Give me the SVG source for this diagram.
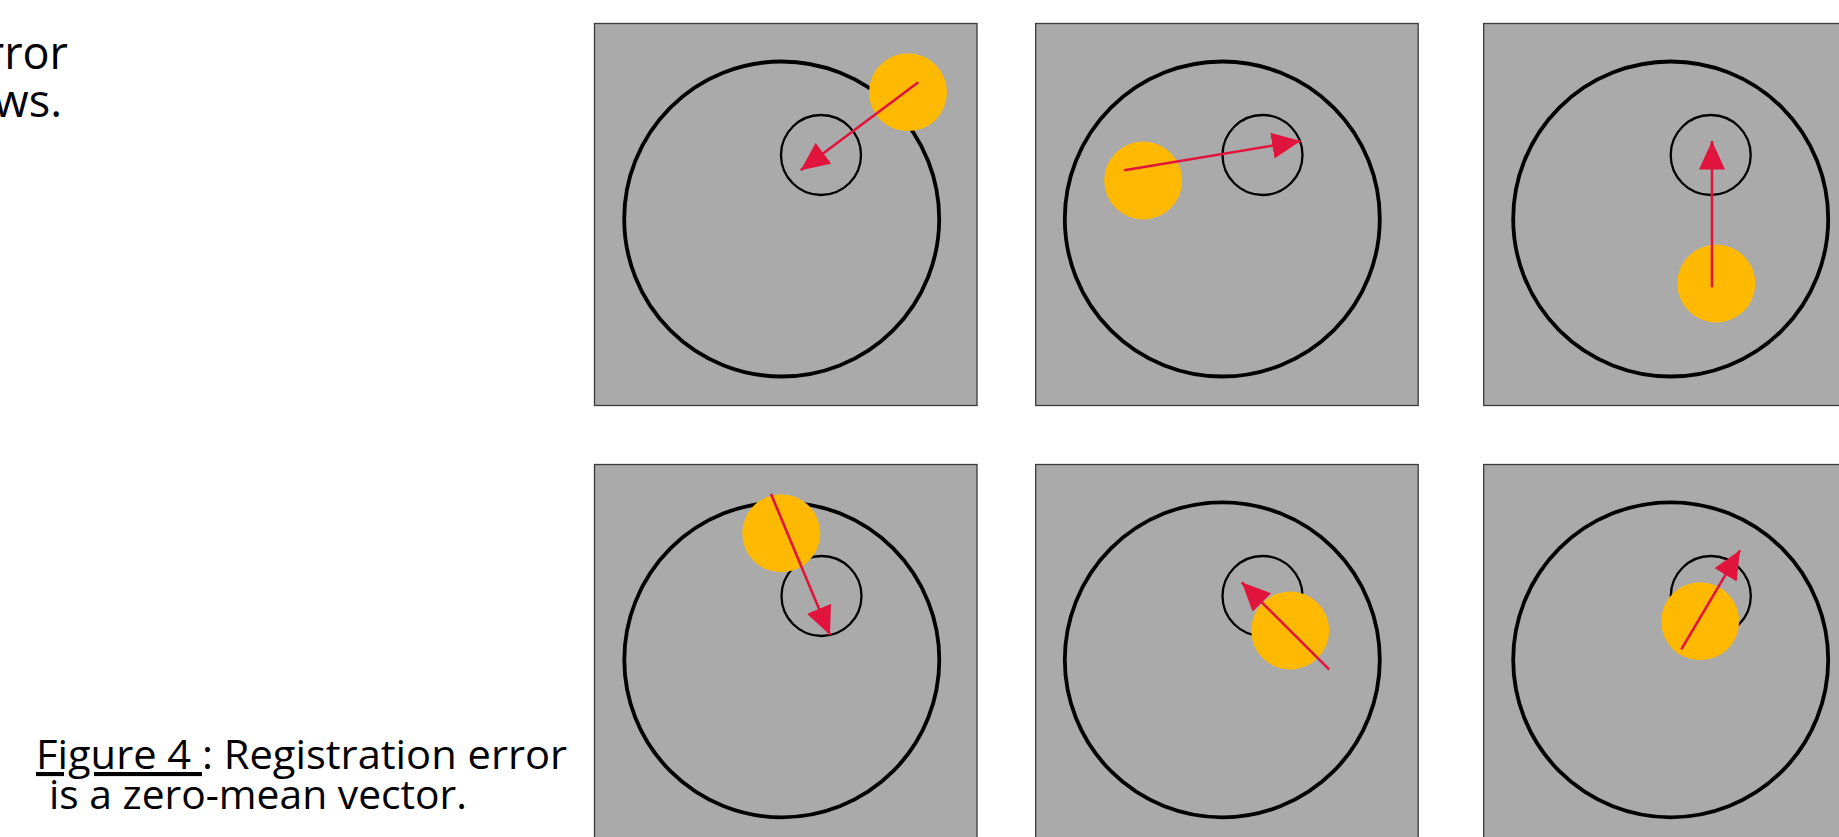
<svg xmlns="http://www.w3.org/2000/svg" width="1839" height="837" viewBox="0 0 1839 837">
<style>
  .txt { font-family: "Open Sans", "Liberation Sans", sans-serif; fill: #000; }
  .panel { fill: #AAAAAA; stroke: #3a3a3a; stroke-width: 1.3; }
  .big { fill: none; stroke: #000; stroke-width: 3.8; }
  .small { fill: none; stroke: #000; stroke-width: 2.3; }
  .dot { fill: #FFB900; stroke: none; }
  .vec { stroke: #E0143C; stroke-width: 2.6; fill: none; marker-end: url(#head); }
</style>
<defs>
  <marker id="head" markerUnits="userSpaceOnUse" markerWidth="30" markerHeight="28" refX="28.5" refY="13" orient="auto">
    <path d="M0,0 L28.5,13 L0,26 Z" fill="#E0143C"/>
  </marker>
</defs>
<rect width="1839" height="837" fill="#FFFFFF"/>

<g id="text-top">
  <text class="txt" x="68" y="69" font-size="45" text-anchor="end">rror</text>
  <text class="txt" x="62" y="117" font-size="45" text-anchor="end">ws.</text>
</g>

<g id="caption">
  <text class="txt" x="36" y="769" font-size="41" textLength="531" lengthAdjust="spacingAndGlyphs"><tspan text-decoration="underline">Figure 4 </tspan>: Registration error</text>
  <text class="txt" x="49" y="809" font-size="41" textLength="418" lengthAdjust="spacingAndGlyphs">is a zero-mean vector.</text>
</g>

<g id="panel-1">
  <rect class="panel" x="594.5" y="23.5" width="382.5" height="382"/>
  <circle class="big" cx="781.7" cy="219" r="157.5"/>
  <circle class="small" cx="821" cy="155" r="40"/>
  <circle class="dot" cx="908" cy="92.3" r="39"/>
</g>
<g id="panel-2">
  <rect class="panel" x="1035.7" y="23.5" width="382.5" height="382"/>
  <circle class="big" cx="1222.3" cy="219" r="157.5"/>
  <circle class="small" cx="1262.5" cy="155" r="40"/>
  <circle class="dot" cx="1143.2" cy="180.5" r="39"/>
</g>
<g id="panel-3">
  <rect class="panel" x="1483.7" y="23.5" width="382.5" height="382"/>
  <circle class="big" cx="1670.7" cy="219" r="157.5"/>
  <circle class="small" cx="1710.7" cy="155" r="40"/>
  <circle class="dot" cx="1716.3" cy="283.5" r="39"/>
</g>
<g id="panel-4">
  <rect class="panel" x="594.5" y="464.5" width="382.5" height="382"/>
  <circle class="big" cx="781.8" cy="659.8" r="157.5"/>
  <circle class="small" cx="821.5" cy="596" r="40"/>
  <circle class="dot" cx="781.3" cy="533.3" r="39"/>
</g>
<g id="panel-5">
  <rect class="panel" x="1035.7" y="464.5" width="382.5" height="382"/>
  <circle class="big" cx="1222.3" cy="659.8" r="157.5"/>
  <circle class="small" cx="1262.5" cy="596" r="40"/>
  <circle class="dot" cx="1290.2" cy="630.5" r="39"/>
</g>
<g id="panel-6">
  <rect class="panel" x="1483.7" y="464.5" width="382.5" height="382"/>
  <circle class="big" cx="1670.7" cy="659.8" r="157.5"/>
  <circle class="small" cx="1710.8" cy="596" r="40"/>
  <circle class="dot" cx="1700.2" cy="621.3" r="39"/>
</g>

<g id="connectors">
  <line class="vec" x1="918.3" y1="82.3" x2="800.7" y2="170.3"/>
  <line class="vec" x1="1124.3" y1="170.3" x2="1300.5" y2="141"/>
  <line class="vec" x1="1712" y1="287.3" x2="1712" y2="141"/>
  <line class="vec" x1="771" y1="494" x2="830" y2="635"/>
  <line class="vec" x1="1329.3" y1="669.7" x2="1241.7" y2="582.3"/>
  <line class="vec" x1="1681.3" y1="649.3" x2="1740" y2="550.3"/>
</g>
</svg>
